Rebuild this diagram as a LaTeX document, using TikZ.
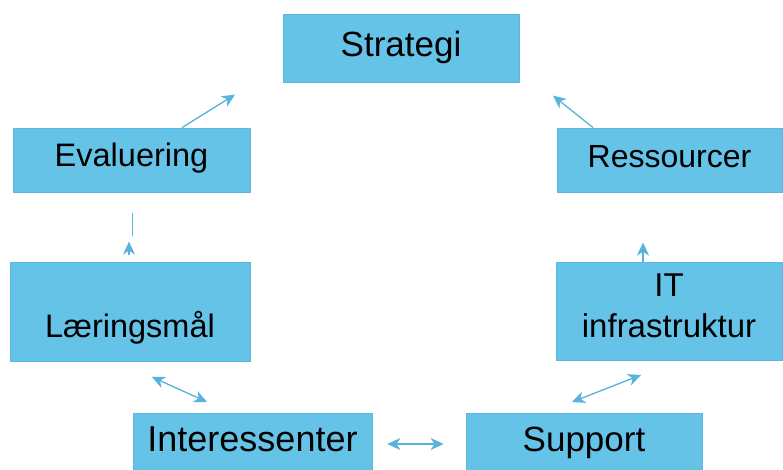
\documentclass[tikz,border=0pt]{standalone}
\usepackage{fontspec}
\setmainfont{Liberation Sans}
\usetikzlibrary{arrows.meta}
\definecolor{boxfill}{RGB}{102,195,232}
\definecolor{boxline}{RGB}{92,182,228}
\definecolor{arr}{RGB}{88,178,222}
\tikzset{
  box/.style={draw=boxline, fill=boxfill, line width=0.8pt, inner sep=0pt,
    text height=0pt, text depth=0pt, text=black},
  conn/.style={draw=arr, line width=1.3pt},
  tip/.style={-{Stealth[length=13pt,width=12pt,inset=4pt]}},
  tips/.style={{Stealth[length=13pt,width=12pt,inset=4pt]}-{Stealth[length=13pt,width=12pt,inset=4pt]}}
}
\newcommand{\fsz}[1]{\fontsize{#1}{41}\selectfont}
\begin{document}
\begin{tikzpicture}[x=1pt,y=1pt]
\clip (0,0) rectangle (783,470);
\fill[white] (0,0) rectangle (783,470);
\node[box, minimum width=236pt, minimum height=68pt] (S) at (401,422) {\fsz{35}\raisebox{-9pt}{Strategi}};
\node[box, minimum width=237pt, minimum height=64pt] (E) at (131.5,310) {\fsz{32.5}\raisebox{-7pt}{Evaluering}};
\node[box, minimum width=225pt, minimum height=64pt] (R) at (669.5,310) {\fsz{32}\raisebox{-8pt}{Ressourcer}};
\node[box, minimum width=240pt, minimum height=99pt] (L) at (130,158.5) {\fsz{32.5}\raisebox{-26.5pt}{Læringsmål}};
\node[box, minimum width=226pt, minimum height=98pt] (IT) at (669,159) {\fsz{33}\raisebox{-27pt}{\begin{tabular}[b]{@{}c@{}}IT\\infrastruktur\end{tabular}}};
\node[box, minimum width=239pt, minimum height=62pt] (I) at (252.5,26) {\fsz{36}\raisebox{-8pt}{Interessenter}};
\node[box, minimum width=236pt, minimum height=62pt] (Su) at (584,26) {\fsz{35}\raisebox{-8pt}{Support}};
% connectors
\draw[conn, tip] ([xshift=50.5pt]E.north) -- ++(53,33);
\draw[conn, tip] ([xshift=-76.5pt]R.north) -- ++(-40,32);
\coordinate (l1) at ([xshift=1pt,yshift=-44pt]E.south);
\draw[conn] (l1) -- ++(0,23);
\coordinate (h1) at ([xshift=-1pt,yshift=7pt]L.north);
\draw[conn, tip] (h1) -- ++(0,13);
\draw[conn, tip] ([xshift=-26pt]IT.north) -- ++(0,19);
\coordinate (p1) at (152,93);
\coordinate (p2) at (207,68);
\draw[conn, tips] (p1) -- (p2);
\draw[conn, tips] ([xshift=15pt]I.east) -- ([xshift=-22pt]Su.west);
\coordinate (q1) at (572,68);
\coordinate (q2) at (641,95);
\draw[conn, tips] (q1) -- (q2);
\end{tikzpicture}
\end{document}
